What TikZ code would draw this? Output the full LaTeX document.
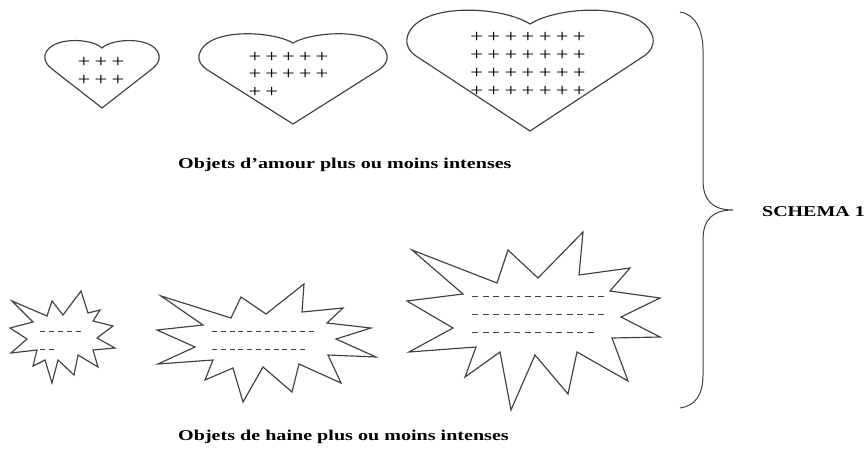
\documentclass[tikz,border=0pt]{standalone}
\usepackage{fontspec}
\setmainfont{Liberation Serif}
\usepackage{graphicx}
\begin{document}
\begin{tikzpicture}[x=1pt,y=-1pt,
  outline/.style={draw=black!75, line width=1.15pt, line join=miter},
  dashrow/.style={draw=black!75, line width=1pt},
  plusmark/.style={inner sep=0pt, font=\fontsize{18}{18}\selectfont, text=black},
  caption/.style={inner sep=0pt, font=\fontsize{15}{17}\selectfont\bfseries}]
\useasboundingbox (0,0) rectangle (866,449);
\fill[white] (0,0) rectangle (866,449);

% hearts
\draw[outline] (102,48) .. controls (92,38) and (50,36) .. (45,55)
  .. controls (44,61) and (47,65) .. (52,69) -- (102,108) -- (152,69)
  .. controls (157,65) and (160,61) .. (159,55)
  .. controls (154,36) and (112,38) .. cycle;
\draw[outline] (293,43) .. controls (270,30) and (205,28) .. (199,55)
  .. controls (198,61) and (201,65) .. (206,69) -- (293,124) -- (380,69)
  .. controls (385,65) and (388,61) .. (387,55)
  .. controls (381,28) and (316,30) .. cycle;
\draw[outline] (530,24) .. controls (500,5) and (415,2) .. (407,38)
  .. controls (406,46) and (409,51) .. (416,56) -- (530,131) -- (644,56)
  .. controls (651,51) and (654,46) .. (653,38)
  .. controls (645,2) and (560,5) .. cycle;

% plus signs
\foreach \r in {0,1} \foreach \c in {0,1,2}
  \node[plusmark] (pa\r\c) at (84+17*\c,62+18.5*\r) {\scalebox{1.25}[1]{+}};
\foreach \r in {0,1} \foreach \c in {0,...,4}
  \node[plusmark] (pb\r\c) at (255+16.75*\c,57+17.5*\r) {\scalebox{1.25}[1]{+}};
\foreach \c in {0,1}
  \node[plusmark] (pb2\c) at (255+16.75*\c,92) {\scalebox{1.25}[1]{+}};
\foreach \r in {0,...,3} \foreach \c in {0,...,6}
  \node[plusmark] (pc\r\c) at (476.7+17.1*\c,37+18.3*\r) {\scalebox{1.25}[1]{+}};

% stars
\draw[outline] (12,301) -- (33,322) -- (10,328) -- (27,339) -- (11,353) -- (37,350)
  -- (33,366) -- (45,360) -- (52,383) -- (58,360) -- (74,375) -- (78,355) -- (98,367)
  -- (93,350) -- (115,348) -- (97,338) -- (113,326) -- (93,321) -- (100,310) -- (88,313)
  -- (81,291) -- (63,315) -- (52,301) -- (47,316) -- cycle;
\draw[outline] (161,296) -- (203,325) -- (157,330) -- (195,347) -- (158,364) -- (213,360)
  -- (205,380) -- (233,368) -- (243,402) -- (263,367) -- (292,392) -- (299,364) -- (341,383)
  -- (328,355) -- (376,357) -- (336,339) -- (371,328) -- (327,323) -- (343,308) -- (302,312)
  -- (304,284) -- (266,314) -- (241,297) -- (231,318) -- cycle;
\draw[outline] (412,250) -- (463,294) -- (407,301) -- (453,328) -- (409,352) -- (476,347)
  -- (465,377) -- (500,352) -- (511,410) -- (535,355) -- (568,394) -- (577,352) -- (628,381)
  -- (612,338) -- (660,337) -- (621,317) -- (660,298) -- (610,291) -- (630,268) -- (579,275)
  -- (583,232) -- (538,278) -- (508,250) -- (497,283) -- cycle;

% dashes
\draw[dashrow, dash pattern=on 5pt off 4pt] (40,331) -- (81,331);
\draw[dashrow, dash pattern=on 5pt off 4pt] (40,349) -- (54,349);
\draw[dashrow, dash pattern=on 5pt off 3.8pt] (212,331) -- (313.8,331);
\draw[dashrow, dash pattern=on 5pt off 3.8pt] (212,349) -- (305,349);
\draw[dashrow, dash pattern=on 6pt off 4.5pt] (472,296) -- (604,296);
\draw[dashrow, dash pattern=on 6pt off 4.5pt] (472,314) -- (604,314);
\draw[dashrow, dash pattern=on 6pt off 4.5pt] (472,332) -- (593.5,332);

% captions
\node[caption, anchor=west] (cap1) at (178,165) {\scalebox{1.34}[1]{Objets d’amour plus ou moins intenses}};
\node[caption, anchor=west] (cap2) at (178,437) {\scalebox{1.34}[1]{Objets de haine plus ou moins intenses}};

% brace
\draw[outline, line width=1pt] (680,12) .. controls (695,14) and (703,30) .. (703,50) -- (703,180)
  .. controls (703,200) and (712,210) .. (733,210)
  .. controls (712,210) and (703,220) .. (703,240) -- (703,375)
  .. controls (703,395) and (695,406) .. (680,408);
\node[caption, anchor=west] (schema) at (762,212) {\scalebox{1.33}[1]{SCHEMA 1}};
\end{tikzpicture}
\end{document}
